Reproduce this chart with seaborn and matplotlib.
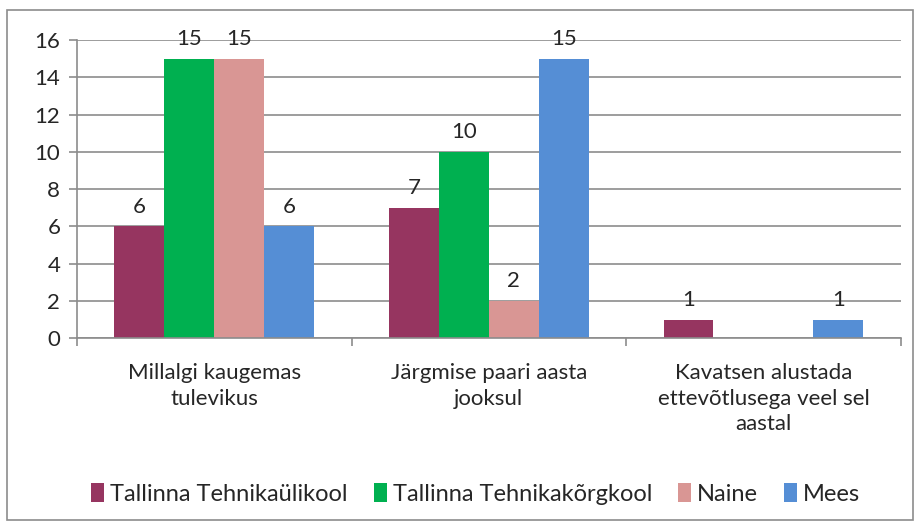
import matplotlib
matplotlib.use("Agg")
import matplotlib.pyplot as plt
import seaborn as sns
import pandas as pd
from matplotlib.patches import Rectangle

categories = ["Millalgi kaugemas\ntulevikus", "Järgmise paari aasta\njooksul",
              "Kavatsen alustada\nettevõtlusega veel sel\naastal"]
series = ["Tallinna Tehnikaülikool", "Tallinna Tehnikakõrgkool", "Naine", "Mees"]
ttu = [6, 7, 1]
ttk = [15, 10, 0]
naine = [15, 2, 0]
mees = [6, 15, 1]
colors = ["#963560", "#00B050", "#D99694", "#558ED5"]
yticks = [0, 2, 4, 6, 8, 10, 12, 14, 16]

rows = []
for s, vals in zip(series, [ttu, ttk, naine, mees]):
    for c, v in zip(categories, vals):
        rows.append({"cat": c, "series": s, "value": v})
df = pd.DataFrame(rows)

sns.set_theme(style="white")
plt.rcParams['font.family'] = ['Lato', 'DejaVu Sans']

FS = 16
fig = plt.figure(figsize=(9.2, 5.26), dpi=100)
ax = fig.add_axes([0.0837, 0.357, 0.8953, 0.567])
sns.barplot(data=df, x="cat", y="value", hue="series", palette=colors,
            width=0.727, saturation=1, ax=ax, legend=True, edgecolor="none")

ax.set_ylim(0, 16)
ax.set_xlim(-0.5, 2.5)
ax.set_yticks(yticks)
ax.set_yticklabels([str(t) for t in yticks], fontsize=FS)
ax.yaxis.grid(True, color="#8c8c8c", linewidth=1.2)
ax.set_axisbelow(True)
for side in ["top", "right"]:
    ax.spines[side].set_visible(False)
for side in ["left", "bottom"]:
    ax.spines[side].set_color("#8c8c8c")
    ax.spines[side].set_linewidth(1.2)
ax.tick_params(axis="y", length=6, color="#8c8c8c", left=True, width=1.2, pad=6)
ax.set_xticks([0, 1, 2])
ax.set_xticklabels(categories, fontsize=FS, linespacing=1.35)
ax.set_xticks([-0.5, 0.5, 1.5, 2.5], minor=True)
ax.tick_params(axis="x", which="major", length=0, pad=18)
ax.tick_params(axis="x", which="minor", length=6, color="#8c8c8c", width=1.2, bottom=True)
ax.set_xlabel("")
ax.set_ylabel("")

for cont in ax.containers:
    labels = [f"{int(v)}" if v > 0 else "" for v in cont.datavalues]
    ax.bar_label(cont, labels=labels, padding=7, fontsize=FS)

leg = ax.legend(loc="lower center", bbox_to_anchor=(0.517, 0.0), bbox_transform=fig.transFigure,
                ncol=4, frameon=False, fontsize=17, handlelength=0.55, handleheight=0.9,
                handletextpad=0.25, columnspacing=1.1)

fig.patches.append(Rectangle((7/920, 6/526), 906/920, 510/526, transform=fig.transFigure,
                             fill=False, edgecolor="#8c8c8c", linewidth=1.2))

fig.savefig("out.png", dpi=100)
